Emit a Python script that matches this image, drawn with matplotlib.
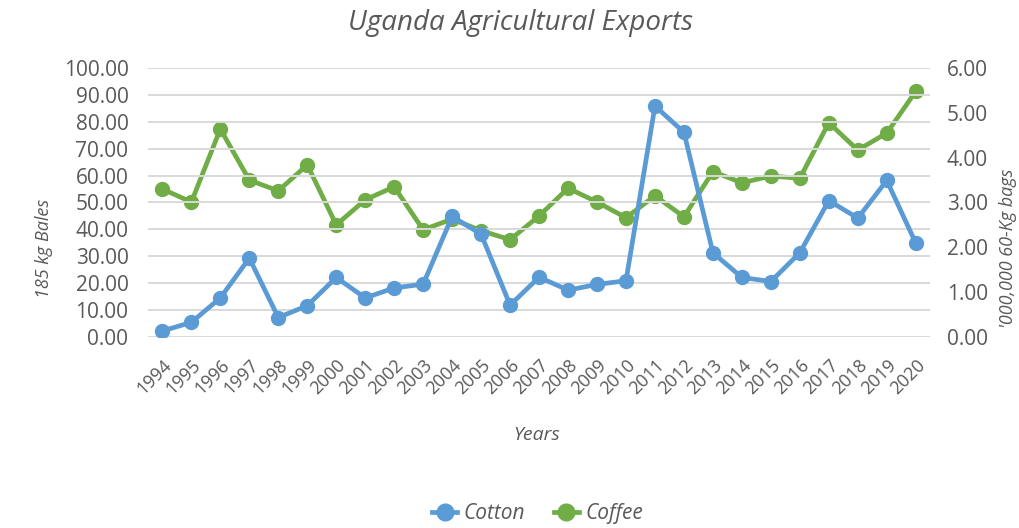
import matplotlib.pyplot as plt
from matplotlib.ticker import FormatStrFormatter
from matplotlib.lines import Line2D

years = [str(y) for y in range(1994, 2021)]

# cotton, 185 kg bales (left axis)
cotton = [2.2, 5.4, 14.5, 29.3, 7.2, 11.6, 22.1, 14.5, 18.2, 19.6, 44.8, 38.2,
          11.8, 22.2, 17.4, 19.5, 20.9, 85.9, 76.1, 31.3, 22.1, 20.6, 31.3,
          50.7, 44.2, 58.2, 34.9]

# coffee, million 60-kg bags (right axis)
coffee = [3.30, 3.01, 4.64, 3.50, 3.26, 3.84, 2.50, 3.06, 3.35, 2.39, 2.63, 2.37,
          2.17, 2.70, 3.32, 3.01, 2.66, 3.15, 2.68, 3.69, 3.44, 3.59, 3.54,
          4.78, 4.17, 4.55, 5.48]

blue = '#5B9BD5'
green = '#70AD47'
grey = '#595959'

plt.rcParams['font.family'] = ['Open Sans', 'DejaVu Sans']

fig = plt.figure(figsize=(10.2, 5.28), dpi=100)
ax = fig.add_axes([0.145, 0.362, 0.767, 0.509])
ax2 = ax.twinx()

x = range(len(years))
ax.plot(x, cotton, color=blue, lw=3.4, marker='o', ms=10, solid_capstyle='round')
ax2.plot(x, coffee, color=green, lw=3.4, marker='o', ms=10, solid_capstyle='round')

# keep cotton above coffee, grid from the left axis
ax.set_zorder(ax2.get_zorder() + 1)
ax.patch.set_visible(False)

ax.set_xlim(-0.5, len(years) - 0.5)
ax.set_ylim(0, 100)
ax2.set_ylim(0, 6)
ax.set_yticks(range(0, 101, 10))
ax2.set_yticks(range(0, 7))
ax.yaxis.set_major_formatter(FormatStrFormatter('%.2f'))
ax2.yaxis.set_major_formatter(FormatStrFormatter('%.2f'))
ax.grid(axis='y', color='#d9d9d9', lw=1.4)
ax.set_axisbelow(True)

ax.set_xticks(list(x))
ax.set_xticklabels(years, rotation=45, ha='right', rotation_mode='anchor')
for a in (ax, ax2):
    for s in a.spines.values():
        s.set_visible(False)
    a.tick_params(length=0, labelsize=15, labelcolor=grey)
ax.tick_params(axis='x', labelsize=13, pad=14)
ax.tick_params(axis='y', pad=14)
ax2.tick_params(axis='y', pad=12)

fig.text(0.51, 0.956, 'Uganda Agricultural Exports', ha='center', va='center',
         fontsize=20, style='italic', color=grey)
fig.text(0.043, 0.53, '185 kg Bales', rotation=90, ha='center', va='center',
         fontsize=13, style='italic', color=grey)
fig.text(0.988, 0.53, "'000,000 60-Kg bags", rotation=90, ha='center', va='center',
         fontsize=13, style='italic', color=grey)
fig.text(0.526, 0.176, 'Years', ha='center', va='center',
         fontsize=14, style='italic', color=grey)

handles = [Line2D([], [], color=blue, lw=3.4, marker='o', ms=12),
           Line2D([], [], color=green, lw=3.4, marker='o', ms=12)]
fig.legend(handles, ['Cotton', 'Coffee'], loc='center', bbox_to_anchor=(0.527, 0.027),
           ncol=2, frameon=False, handlelength=1.2, columnspacing=1.4,
           handletextpad=0.3, prop={'size': 15, 'style': 'italic'}, labelcolor=grey)

fig.savefig('out.png', dpi=100)
